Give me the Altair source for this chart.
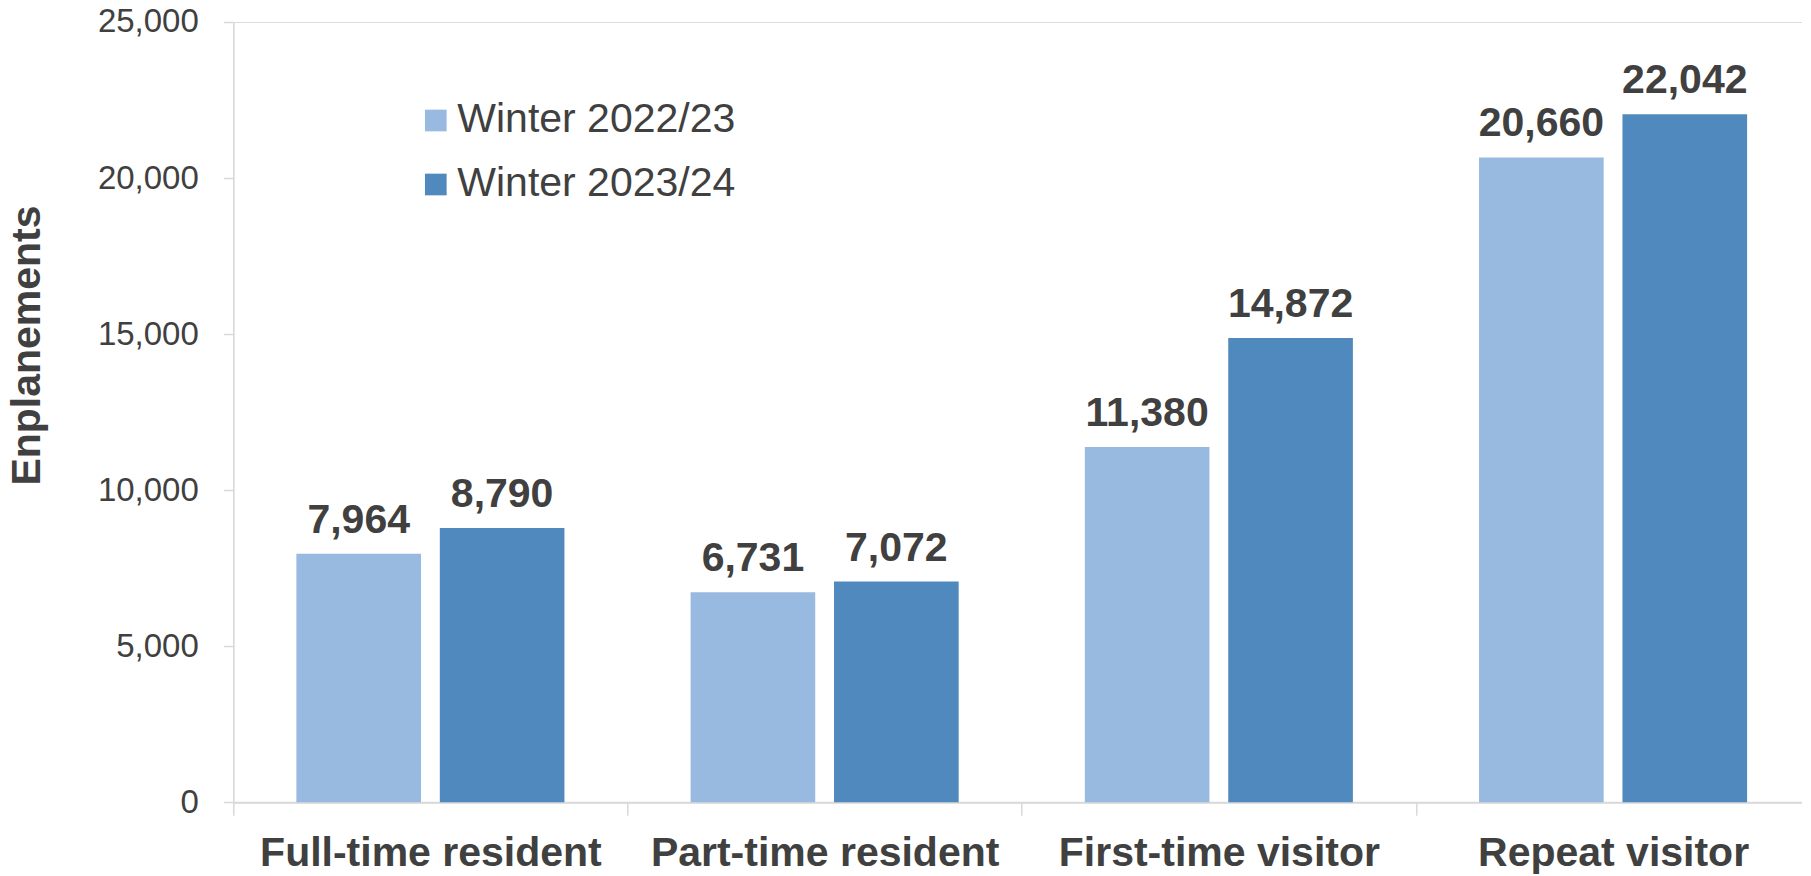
import altair as alt
import pandas as pd

categories = ["Full-time resident", "Part-time resident", "First-time visitor", "Repeat visitor"]
seasons = ["Winter 2022/23", "Winter 2023/24"]
w2223 = [7964, 6731, 11380, 20660]
w2324 = [8790, 7072, 14872, 22042]
colors = ["#98b9e0", "#4f89bd"]

rows = []
for c, a, b in zip(categories, w2223, w2324):
    rows.append({"category": c, "season": seasons[0], "value": a})
    rows.append({"category": c, "season": seasons[1], "value": b})
df = pd.DataFrame(rows)

FONT = "Liberation Sans, Arial, sans-serif"
TXT = "#404040"
GRID = "#d9d9d9"

W = 1569
H = 780.3
P_IN = 0.32
P_OUT = 0.15
STEP = W / (4 - P_IN + 2 * P_OUT)
HALF_GAP = P_IN * STEP / 2.0
ALIGN = (HALF_GAP) / (2 * P_OUT * STEP)

x = alt.X(
    "category:N",
    sort=categories,
    scale=alt.Scale(paddingInner=P_IN, paddingOuter=P_OUT, align=ALIGN),
    axis=alt.Axis(
        title=None,
        labelAngle=0,
        labelFont=FONT,
        labelFontSize=41,
        labelFontWeight="bold",
        labelColor=TXT,
        labelPadding=18,
        labelBaseline="top",
        labelLimit=0,
        bandPosition=0,
        tickOffset=-HALF_GAP,
        labelOffset=HALF_GAP,
        tickSize=13,
        tickColor=GRID,
        tickWidth=1.5,
        domainColor=GRID,
        domainWidth=2,
        grid=False,
    ),
)
xo = alt.XOffset("season:N", sort=seasons, scale=alt.Scale(paddingInner=0.131, paddingOuter=0))
y = alt.Y(
    "value:Q",
    scale=alt.Scale(domain=[0, 25000], nice=False),
    axis=alt.Axis(
        title="Enplanements",
        titleFont=FONT,
        titleFontSize=41,
        titleFontWeight="bold",
        titleColor=TXT,
        titleX=-194,
        titleY=323,
        titleAngle=270,
        titleBaseline="alphabetic",
        titleAlign="center",
        titleLimit=0,
        values=[0, 5000, 10000, 15000, 20000, 25000],
        format=",d",
        labelFont=FONT,
        labelFontSize=33,
        labelColor=TXT,
        labelPadding=25,
        tickSize=10,
        tickColor=GRID,
        tickWidth=1.5,
        domainColor=GRID,
        domainWidth=1.5,
        grid=False,
    ),
)

bars = alt.Chart(df).mark_bar().encode(
    x=x,
    xOffset=xo,
    y=y,
    color=alt.Color(
        "season:N",
        sort=seasons,
        scale=alt.Scale(domain=seasons, range=colors),
        legend=alt.Legend(
            orient="none",
            legendX=182,
            legendY=78,
            title=None,
            symbolType="square",
            symbolSize=470,
            symbolStrokeWidth=0,
            symbolOpacity=1,
            labelFont=FONT,
            labelFontSize=41,
            labelColor=TXT,
            labelOffset=1,
            labelLimit=0,
            rowPadding=22,
            padding=0,
        ),
    ),
)

labels = alt.Chart(df).mark_text(
    font=FONT,
    fontSize=41,
    fontWeight="bold",
    color=TXT,
    baseline="alphabetic",
    dy=-21,
).encode(
    x=alt.X("category:N", sort=categories),
    xOffset=alt.XOffset("season:N", sort=seasons),
    y=alt.Y("value:Q"),
    text=alt.Text("value:Q", format=",d"),
)

chart = (
    alt.layer(bars, labels)
    .properties(
        width=W,
        height=H,
        autosize=alt.AutoSizeParams(type="none"),
        padding={"left": 225.3, "top": 14, "right": 0, "bottom": 73},
    )
    .configure_view(stroke=None)
    .configure(background="white")
)

chart.save("out.html", embed_options={"renderer": "svg", "actions": False})
